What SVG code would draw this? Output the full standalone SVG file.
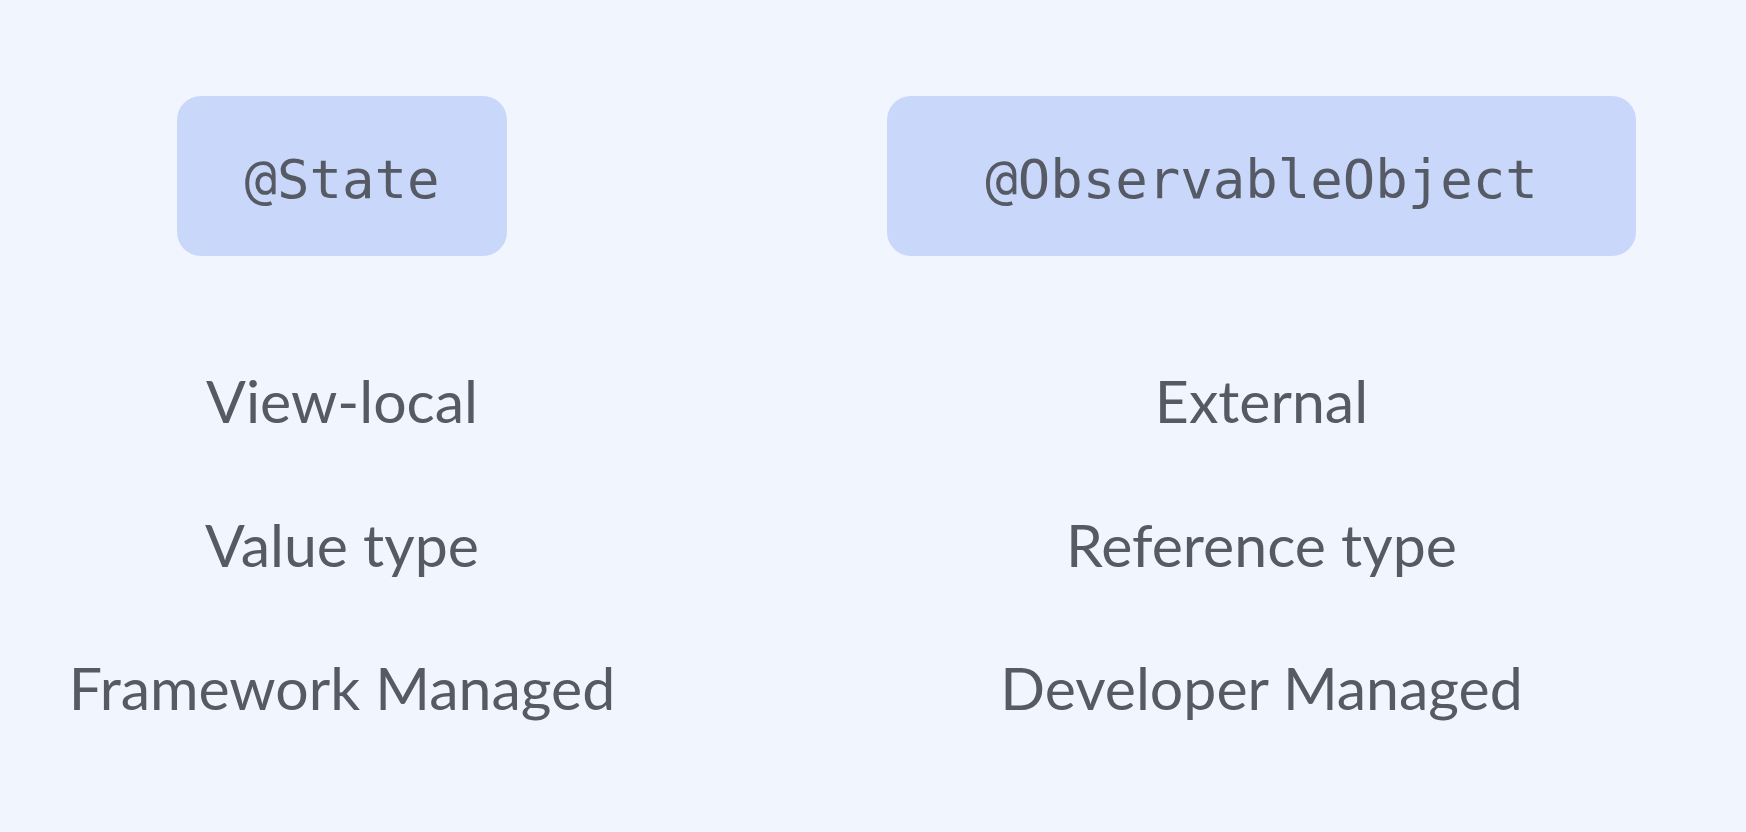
<svg xmlns="http://www.w3.org/2000/svg" width="1746" height="832" viewBox="0 0 1746 832">
<style>
.box{fill:#c9d7fa;}
.code{font-family:"DejaVu Sans Mono",monospace;font-size:54px;fill:#555a64;text-anchor:middle;}
.lbl{font-family:Lato,"Liberation Sans",sans-serif;font-size:59px;fill:#555a64;text-anchor:middle;}
</style>
<rect width="1746" height="832" fill="#f0f5fe"/>
<g id="state">
<rect class="box" x="177" y="96" width="330" height="160" rx="24"/>
<text class="code" x="342" y="198">@State</text>
</g>
<g id="observable">
<rect class="box" x="887" y="96" width="749" height="160" rx="24"/>
<text class="code" x="1261.5" y="198">@ObservableObject</text>
</g>
<g id="state-labels">
<text class="lbl" x="342" y="423">View-local</text>
<text class="lbl" x="342" y="567">Value type</text>
<text class="lbl" x="342" y="710">Framework Managed</text>
</g>
<g id="observable-labels">
<text class="lbl" x="1261.5" y="423">External</text>
<text class="lbl" x="1261.5" y="567">Reference type</text>
<text class="lbl" x="1261.5" y="710">Developer Managed</text>
</g>
<g id="connectors"></g>
</svg>
